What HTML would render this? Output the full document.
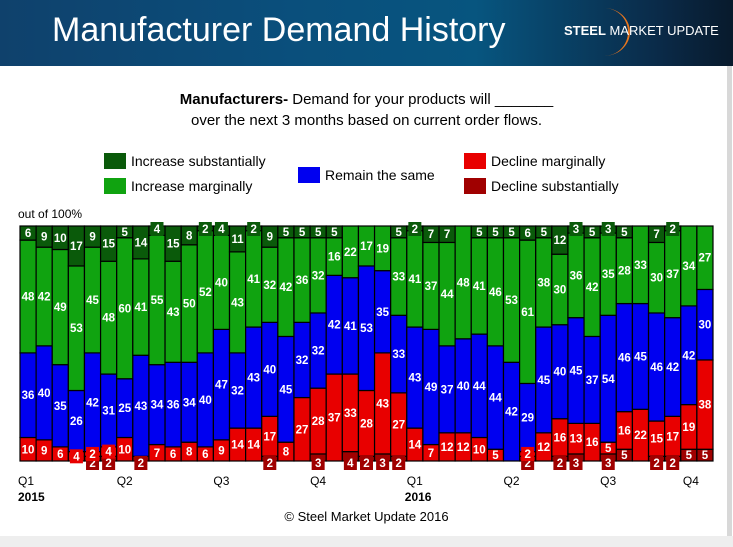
<!DOCTYPE html>
<html><head><meta charset="utf-8">
<style>
body{margin:0;width:733px;height:547px;overflow:hidden;font-family:"Liberation Sans",sans-serif;background:#fff;position:relative}
#hdr{position:absolute;left:0;top:0;width:733px;height:66px;background:linear-gradient(90deg,#0f416c 0%,#0a4f7c 40%,#07557f 65%,#0a2a48 90%,#081a2c 100%)}
#title{position:absolute;left:52px;top:11px;color:#fff;font-size:34px;letter-spacing:0px}
#logo{position:absolute;left:564px;top:23px;color:#fff;font-size:13px;white-space:nowrap}
#panel{position:absolute;left:0;top:66px;width:727px;height:470px;background:#fff;border-right:5px solid #d8d8d8}
#q{position:absolute;left:0;width:733px;text-align:center;top:89px;font-size:15px;line-height:21px;color:#000}
.leg{position:absolute;font-size:14px;color:#000;white-space:nowrap}
.sw{position:absolute;width:22px;height:16px}
#foot{position:absolute;left:0;width:733px;text-align:center;top:509px;font-size:13px}
#strip{position:absolute;left:0;top:536px;width:733px;height:11px;background:#eee}
</style></head><body>
<div id="hdr"></div>
<div id="title">Manufacturer Demand History</div>
<svg style="position:absolute;left:580px;top:4px" width="70" height="56"><path d="M24 4 A26 24 0 0 1 24 52 A22 22 0 0 0 24 4 Z" fill="#e8761e"/></svg>
<div id="logo"><b>STEEL</b> MARKET UPDATE</div>
<div id="panel"></div>
<div id="q"><b>Manufacturers-</b> Demand for your products will _______<br>over the next 3 months based on current order flows.</div>
<div class="sw" style="left:104px;top:153px;background:#0a5a0a"></div>
<div class="leg" style="left:131px;top:153px">Increase substantially</div>
<div class="sw" style="left:104px;top:178px;background:#10a310"></div>
<div class="leg" style="left:131px;top:178px">Increase marginally</div>
<div class="sw" style="left:298px;top:167px;background:#0000f0"></div>
<div class="leg" style="left:325px;top:167px">Remain the same</div>
<div class="sw" style="left:464px;top:153px;background:#e80000"></div>
<div class="leg" style="left:491px;top:153px">Decline marginally</div>
<div class="sw" style="left:464px;top:178px;background:#a00000"></div>
<div class="leg" style="left:491px;top:178px">Decline substantially</div>
<svg id="chart" style="position:absolute;left:0;top:0" width="733" height="547"></svg>
<div id="foot">© Steel Market Update 2016</div>
<div id="strip"></div>
<script>
const DS=[0,0,0,0,2,2,0,2,0,0,0,0,0,0,0,2,0,0,3,0,4,2,3,2,0,0,0,0,0,0,0,2,0,2,3,0,3,5,0,2,2,5,5];
const DM=[10,9,6,4,2,4,10,0,7,6,8,6,9,14,14,17,8,27,28,37,33,28,43,27,14,7,12,12,10,5,0,2,12,16,13,16,5,16,22,15,17,19,38];
const RS=[36,40,35,26,42,31,25,43,34,36,34,40,47,32,43,40,45,32,32,42,41,53,35,33,43,49,37,40,44,44,42,29,45,40,45,37,54,46,45,46,42,42,30];
const IM=[48,42,49,53,45,48,60,41,55,43,50,52,40,43,41,32,42,36,32,16,22,17,19,33,41,37,44,48,41,46,53,61,38,30,36,42,35,28,33,30,37,34,27];
const IS=[6,9,10,17,9,15,5,14,4,15,8,2,4,11,2,9,5,5,5,5,0,0,0,5,2,7,7,0,5,5,5,6,5,12,3,5,3,5,0,7,2,0,0];
const quarterLabels=["Q1","Q2","Q3","Q4","Q1","Q2","Q3","Q4"];
const quarterIdx=[0,6,12,18,24,30,36,42];
const yearLabels=["2015","2016"];
const yearIdx=[0,24];
const svg=document.getElementById('chart');const NS='http://www.w3.org/2000/svg';
const X0=20,X1=713,Y0=461,Y1=226;
const n=DS.length,bw=(X1-X0)/n;
const x=i=>X0+i*bw;
const y=v=>Y0-(v/100)*(Y0-Y1);
const cols=['#a00000','#e80000','#0000f0','#10a310','#0a5a0a'];
const series=[DS,DM,RS,IM,IS];
const names=['decline-substantially','decline-marginally','remain-same','increase-marginally','increase-substantially'];
function mk(t,a){const e=document.createElementNS(NS,t);for(const k in a)e.setAttribute(k,a[k]);svg.appendChild(e);return e;}
const lbl=mk('text',{x:18,y:218,'font-size':12,fill:'#000'});
lbl.textContent='out of 100%';


const smalls=[];
for(let i=0;i<n;i++){let acc=0;
 for(let s=0;s<5;s++){const v=series[s][i];if(!v)continue;
  const yt=y(acc+v),yb=y(acc);
  const r=mk('rect',{x:x(i),y:yt,width:bw,height:yb-yt,fill:cols[s],stroke:'#000','stroke-width':1.2});
  
  
  let cy=(yt+yb)/2;
  if(v<5){ if(s==0)cy=Y0+2; else if(s==4)cy=Y1+3; smalls.push([i,cy,v,cols[s]]);}
  else{const t=mk('text',{x:x(i)+bw/2,y:cy+4,'text-anchor':'middle','font-size':11.5,'font-weight':'bold',fill:'#fff'});
   t.textContent=v;
   
   }
  acc+=v;}
}
smalls.forEach(([i,cy,v,c])=>{
 const b=mk('rect',{x:x(i)+bw/2-6.5,y:cy-7,width:13,height:14,fill:c});
 
 
 const t=mk('text',{x:x(i)+bw/2,y:cy+4,'text-anchor':'middle','font-size':11.5,'font-weight':'bold',fill:'#fff'});
 t.textContent=v;
 
 
});
quarterLabels.forEach((q,k)=>{const t=mk('text',{x:x(quarterIdx[k])+(k==7?-14:0)+(k==0?-2:0),y:485,'font-size':12,fill:'#000'});
 t.textContent=q;
 
 });
yearLabels.forEach((q,k)=>{const t=mk('text',{x:x(yearIdx[k])-2,y:501,'font-size':12,'font-weight':'bold',fill:'#000'});
 t.textContent=q;
 
 });
</script>
</body></html>
